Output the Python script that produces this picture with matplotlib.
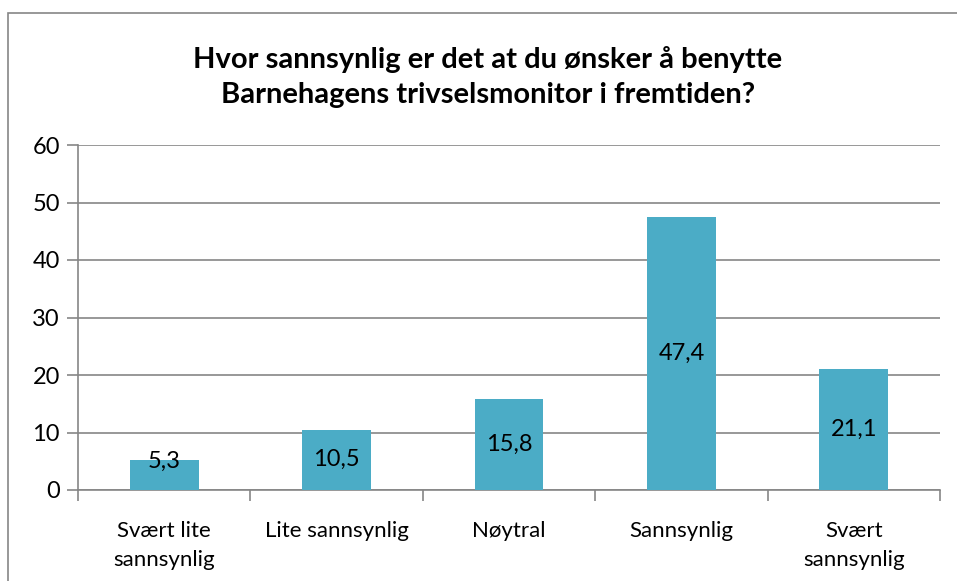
import matplotlib.pyplot as plt
import matplotlib.patches as mpatches

categories = ["Svært lite\nsannsynlig", "Lite sannsynlig", "Nøytral", "Sannsynlig", "Svært\nsannsynlig"]
values = [5.3, 10.5, 15.8, 47.4, 21.1]
value_labels = ["5,3", "10,5", "15,8", "47,4", "21,1"]
yticks = [0, 10, 20, 30, 40, 50, 60]

plt.rcParams['font.family'] = ['Lato', 'DejaVu Sans']

W, H = 957, 581
fig = plt.figure(figsize=(W / 100, H / 100), dpi=100)
ax = fig.add_axes([78 / W, 1 - 490 / H, (940 - 78) / W, (490 - 145) / H])

grey = '#868686'
bar_color = '#4bacc6'

# chart frame (extends past the right and bottom edges)
fig.patches.append(mpatches.Rectangle((8 / W, -0.05), 1.1, 1 - 13 / H + 0.05,
                                      transform=fig.transFigure, fill=False,
                                      edgecolor=grey, linewidth=1.2))

x = list(range(len(categories)))
ax.bar(x, values, width=0.4, color=bar_color, zorder=3)

for xi, v, lab in zip(x, values, value_labels):
    ax.text(xi, max(v / 2, 4.9), lab, ha='center', va='center', fontsize=17, color='black', zorder=4)

ax.set_xlim(-0.5, len(categories) - 0.5)
ax.set_ylim(0, 60)
ax.set_yticks(yticks)
ax.set_yticklabels([str(t) for t in yticks], fontsize=17)
ax.yaxis.grid(True, color=grey, linewidth=1.2, zorder=0)
ax.set_axisbelow(True)

# category labels centered, ticks at category boundaries
ax.set_xticks(x)
ax.set_xticklabels(categories, fontsize=16, linespacing=1.6)
ax.tick_params(axis='x', which='major', length=0, pad=22)
ax.set_xticks([i - 0.5 for i in range(len(categories) + 1)], minor=True)
ax.tick_params(axis='x', which='minor', length=8, color=grey, width=1.2)
ax.tick_params(axis='y', length=8, color=grey, width=1.2, pad=5)

for s in ['top', 'right']:
    ax.spines[s].set_visible(False)
for s in ['left', 'bottom']:
    ax.spines[s].set_color(grey)
    ax.spines[s].set_linewidth(1.2)

fig.text(488 / W, 1 - 77 / H, "Hvor sannsynlig er det at du ønsker å benytte\nBarnehagens trivselsmonitor i fremtiden?",
         ha='center', va='center', fontsize=21, fontweight='bold', linespacing=1.42)

fig.savefig('out.png', dpi=100)
